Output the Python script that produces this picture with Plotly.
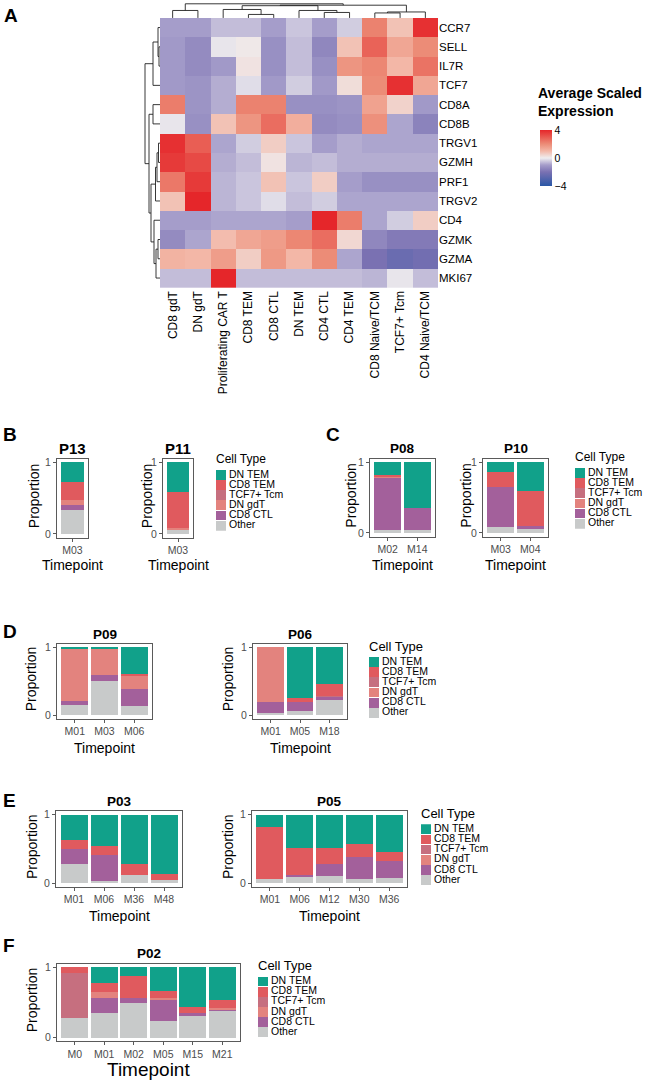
import plotly.graph_objects as go

W, H = 650, 1082
FONT = "Liberation Sans, Arial, sans-serif"

# ---------------- heatmap data (panel A) ----------------
genes = ["CCR7", "SELL", "IL7R", "TCF7", "CD8A", "CD8B", "TRGV1", "GZMH",
         "PRF1", "TRGV2", "CD4", "GZMK", "GZMA", "MKI67"]
clusters = ["CD8 gdT", "DN gdT", "Proliferating CAR T", "CD8 TEM", "CD8 CTL",
            "DN TEM", "CD4 CTL", "CD4 TEM", "CD8 Naive/TCM", "TCF7+ Tcm",
            "CD4 Naive/TCM"]
expr = [
    [-1.0, -1.0, -0.6, -0.6, -1.0, -0.5, -1.0, -0.4, 2.2, 0.8, 3.8],
    [-1.1, -1.4, -0.1, 0.1, -1.3, -0.6, -1.5, 0.8, 2.8, 1.4, 2.0],
    [-1.1, -1.4, -1.1, 0.2, -1.3, -0.6, -1.3, 1.8, 2.1, 1.0, 2.5],
    [-1.1, -1.2, -0.8, -0.2, -1.1, -0.4, -1.1, 0.3, 2.0, 3.8, 1.4],
    [2.3, -1.2, -0.8, 2.2, 2.2, -1.3, -1.3, -1.2, 1.5, 0.5, -1.1],
    [-0.1, -1.3, 0.8, 1.8, 2.6, 1.2, -1.4, -1.3, 1.9, -0.9, -1.6],
    [3.8, 2.9, -0.9, -0.4, 0.6, -0.5, -1.0, -0.8, -0.9, -0.9, -0.9],
    [3.6, 3.3, -0.8, -0.6, 0.2, -0.7, -0.6, -0.8, -0.8, -0.8, -0.8],
    [2.4, 3.6, -0.7, -0.5, 0.8, -0.5, 0.6, -1.0, -1.3, -1.3, -1.3],
    [0.8, 4.0, -0.7, -0.5, -0.2, -0.6, -0.4, -0.9, -0.9, -0.9, -0.9],
    [-1.0, -1.0, -0.9, -0.9, -0.9, -1.0, 4.0, 2.3, -0.9, -0.4, 0.6],
    [-1.4, -0.9, 0.9, 1.4, 1.6, 2.1, 2.6, 0.4, -1.5, -1.8, -1.8],
    [1.1, 1.0, 1.6, 0.6, 1.7, 1.0, 2.0, -0.9, -2.0, -2.4, -2.2],
    [-0.6, -0.6, 4.0, -0.6, -0.6, -0.6, -0.6, -0.6, -0.7, -0.1, -0.6],
]
# dendrogram merges: [left id, right id, height]; leaves are 0..n-1 in display order
row_merges = [
    [1, 2, 1.0], [0, 14, 2.0], [15, 3, 7.0], [4, 5, 7.0],
    [6, 7, 1.5], [18, 8, 3.0], [19, 9, 4.5],
    [11, 12, 2.0], [21, 13, 4.0], [10, 22, 6.0],
    [20, 23, 9.0], [17, 24, 11.0], [16, 25, 15.0],
]
col_merges = [
    [3, 4, 3.5], [2, 11, 8.5], [6, 7, 5.5], [5, 13, 7.5], [12, 14, 12.3],
    [8, 9, 5.0], [16, 10, 6.0], [0, 1, 7.5], [15, 17, 12.8], [18, 19, 14.2],
]

# ---------------- composition data (panels B-F) ----------------
cell_types = ["Other", "CD8 CTL", "DN gdT", "TCF7+ Tcm", "CD8 TEM", "DN TEM"]
ct_colors = ["#C8CACA", "#A3609B", "#E3837E", "#C66F7F", "#E05A5E", "#11A18A"]

p13_tp = ["M03"]
p13 = {"DN TEM": [0.27], "CD8 TEM": [0.26], "TCF7+ Tcm": [0.0],
       "DN gdT": [0.065], "CD8 CTL": [0.065], "Other": [0.34]}
p11_tp = ["M03"]
p11 = {"DN TEM": [0.42], "CD8 TEM": [0.50], "TCF7+ Tcm": [0.0],
       "DN gdT": [0.01], "CD8 CTL": [0.01], "Other": [0.06]}
p08_tp = ["M02", "M14"]
p08 = {"DN TEM": [0.18, 0.65], "CD8 TEM": [0.02, 0.0], "TCF7+ Tcm": [0.0, 0.0],
       "DN gdT": [0.01, 0.0], "CD8 CTL": [0.75, 0.31], "Other": [0.04, 0.04]}
p10_tp = ["M03", "M04"]
p10 = {"DN TEM": [0.14, 0.41], "CD8 TEM": [0.21, 0.49], "TCF7+ Tcm": [0.0, 0.0],
       "DN gdT": [0.0, 0.0], "CD8 CTL": [0.56, 0.04], "Other": [0.09, 0.06]}
p09_tp = ["M01", "M03", "M06"]
p09 = {"DN TEM": [0.01, 0.01, 0.39], "CD8 TEM": [0.01, 0.0, 0.02],
       "TCF7+ Tcm": [0.0, 0.0, 0.0], "DN gdT": [0.77, 0.395, 0.20],
       "CD8 CTL": [0.06, 0.085, 0.25], "Other": [0.15, 0.51, 0.14]}
p06_tp = ["M01", "M05", "M18"]
p06 = {"DN TEM": [0.0, 0.75, 0.54], "CD8 TEM": [0.0, 0.055, 0.18],
       "TCF7+ Tcm": [0.0, 0.0, 0.01], "DN gdT": [0.80, 0.0, 0.0],
       "CD8 CTL": [0.165, 0.13, 0.05], "Other": [0.035, 0.065, 0.22]}
p03_tp = ["M01", "M06", "M36", "M48"]
p03 = {"DN TEM": [0.375, 0.455, 0.71, 0.86], "CD8 TEM": [0.13, 0.13, 0.17, 0.09],
       "TCF7+ Tcm": [0, 0, 0, 0], "DN gdT": [0, 0, 0, 0],
       "CD8 CTL": [0.21, 0.375, 0.0, 0.0], "Other": [0.285, 0.04, 0.12, 0.05]}
p05_tp = ["M01", "M06", "M12", "M30", "M36"]
p05 = {"DN TEM": [0.18, 0.48, 0.48, 0.42, 0.54], "CD8 TEM": [0.76, 0.39, 0.23, 0.20, 0.13],
       "TCF7+ Tcm": [0, 0, 0, 0, 0], "DN gdT": [0, 0, 0, 0, 0],
       "CD8 CTL": [0.0, 0.043, 0.175, 0.31, 0.25], "Other": [0.06, 0.087, 0.115, 0.07, 0.08]}
p02_tp = ["M0", "M01", "M02", "M05", "M15", "M21"]
p02 = {"DN TEM": [0.0, 0.225, 0.12, 0.34, 0.57, 0.46],
       "CD8 TEM": [0.085, 0.13, 0.315, 0.10, 0.08, 0.12],
       "TCF7+ Tcm": [0.635, 0.0, 0.0, 0.0, 0.0, 0.0],
       "DN gdT": [0.0, 0.08, 0.0, 0.01, 0.0, 0.015],
       "CD8 CTL": [0.0, 0.215, 0.07, 0.315, 0.05, 0.03],
       "Other": [0.28, 0.35, 0.495, 0.235, 0.30, 0.375]}

fig = go.Figure()
annotations = []
n_axes = 0


def new_axes(x0, x1, y0, y1, xaxis=None, yaxis=None):
    """Add an x/y axis pair whose domain is given in pixels."""
    global n_axes
    n_axes += 1
    s = "" if n_axes == 1 else str(n_axes)
    base = dict(showgrid=False, zeroline=False)
    fig.update_layout({
        f"xaxis{s}": dict(domain=[x0 / W, x1 / W], anchor=f"y{s}", **base, **(xaxis or {})),
        f"yaxis{s}": dict(domain=[1 - y1 / H, 1 - y0 / H], anchor=f"x{s}", **base, **(yaxis or {})),
    })
    return f"x{s}", f"y{s}"


def text(x, y, s, size, bold=False, angle=0, color="black", xanchor="center", yanchor="middle"):
    annotations.append(dict(
        x=x / W, y=1 - y / H, xref="paper", yref="paper", text=f"<b>{s}</b>" if bold else s,
        showarrow=False, textangle=angle, xanchor=xanchor, yanchor=yanchor, align="left",
        borderpad=0, font=dict(family=FONT, size=size, color=color)))


def dendro_lines(merges, n):
    pos = list(range(n))
    hgt = [0.0] * n
    xs, ys = [], []
    for a, b, h in merges:
        xs += [pos[a], pos[a], pos[b], pos[b], None]
        ys += [hgt[a], h, h, hgt[b], None]
        pos.append((pos[a] + pos[b]) / 2)
        hgt.append(h)
    return xs, ys


# ---------------- panel A ----------------
hx0, hx1, hy0, hy1 = 160, 438, 15, 286
colorscale = [
    [0.0, "#2A57A6"], [0.25, "#7A71B2"], [0.375, "#A59DCA"], [0.5, "#EFEDEF"],
    [0.625, "#F3B7A7"], [0.75, "#EC8C77"], [1.0, "#E5262A"],
]
xa, ya = new_axes(
    hx0, hx1, hy0, hy1,
    xaxis=dict(type="category", tickangle=-90, ticks="", showline=False,
               tickfont=dict(family=FONT, size=12, color="black")),
    yaxis=dict(type="category", autorange="reversed", side="right", ticks="",
               showline=False, tickfont=dict(family=FONT, size=11.5, color="black")),
)
fig.add_trace(go.Heatmap(
    z=expr, x=clusters, y=genes, colorscale=colorscale, zmin=-4, zmax=4,
    xaxis=xa, yaxis=ya, xgap=0, ygap=0,
    colorbar=dict(x=540 / W, xanchor="left", y=1 - 128 / H, yanchor="top",
                  lenmode="pixels", len=56, thickness=12, outlinewidth=0,
                  xpad=0, ypad=0, ticks="", tickvals=[4, 0, -4],
                  ticktext=["4", "0", "\u22124"],
                  tickfont=dict(family=FONT, size=10.5, color="black")),
))
text(537, 99, "Average Scaled<br>Expression", 14, bold=True, xanchor="left")
text(3, 13, "A", 19, bold=True, xanchor="left")

# column dendrogram
cx, cy = dendro_lines(col_merges, len(clusters))
xa, ya = new_axes(hx0, hx1, 0, hy0,
                  xaxis=dict(range=[-0.5, len(clusters) - 0.5], visible=False),
                  yaxis=dict(range=[0, 15], visible=False))
fig.add_trace(go.Scatter(x=cx, y=cy, mode="lines", line=dict(color="#222", width=0.9),
                         xaxis=xa, yaxis=ya, hoverinfo="skip"))

# row dendrogram
rx, ry = dendro_lines(row_merges, len(genes))
xa, ya = new_axes(142, hx0, hy0, hy1,
                  xaxis=dict(range=[18, 0], visible=False),
                  yaxis=dict(range=[len(genes) - 0.5, -0.5], visible=False))
fig.add_trace(go.Scatter(x=ry, y=rx, mode="lines", line=dict(color="#222", width=0.9),
                         xaxis=xa, yaxis=ya, hoverinfo="skip"))


# ---------------- panels B-F ----------------
def bar_panel(x0, x1, y0, y1, title, tps, props, title_size=13.5, prop_x=None, tp_y=None,
              tp_size=14):
    n = len(tps)
    axis_style = dict(showline=True, mirror=True, color="#4D4D4D", linecolor="#5A5A5A",
                      linewidth=1, ticks="outside", ticklen=3, tickcolor="#5A5A5A",
                      tickwidth=0.8, tickfont=dict(family=FONT, size=10.5, color="#4D4D4D"))
    xa, ya = new_axes(
        x0, x1, y0, y1,
        xaxis=dict(type="category", range=[-0.6, n - 0.4], **axis_style),
        yaxis=dict(range=[-0.05, 1.05], tickvals=[0, 1], **axis_style),
    )
    for ct, col in zip(cell_types, ct_colors):
        fig.add_trace(go.Bar(x=tps, y=props[ct], name=ct, marker=dict(color=col, line_width=0),
                             width=0.9, xaxis=xa, yaxis=ya))
    xc = (x0 + x1) / 2
    text(xc, y0 - 10, title, title_size, bold=True, xanchor="center")
    text(prop_x, (y0 + y1) / 2 - 2, "Proportion", 14, angle=-90)
    text(xc, tp_y, "Timepoint", tp_size)


def legend_panel(x0, y0, title_size=11, row_h=10.2):
    names = cell_types[::-1]
    cols = ct_colors[::-1]
    w = min(80, W - x0)
    xa, ya = new_axes(x0, x0 + w, y0, y0 + row_h * len(names),
                      xaxis=dict(range=[0, w], visible=False),
                      yaxis=dict(type="category", range=[len(names) - 0.5, -0.5], visible=False))
    fig.add_trace(go.Bar(y=names, x=[10] * len(names), base=0, orientation="h",
                         marker=dict(color=cols, line_width=0), width=0.96,
                         xaxis=xa, yaxis=ya, hoverinfo="skip"))
    fig.add_trace(go.Scatter(y=names, x=[13] * len(names), text=names, mode="text",
                             textposition="middle right",
                             textfont=dict(family=FONT, size=10.5, color="black"),
                             xaxis=xa, yaxis=ya, hoverinfo="skip", cliponaxis=False))
    text(x0 - 1, y0 - 11, "Cell Type", title_size, xanchor="left")


# B
text(2, 434, "B", 19, bold=True, xanchor="left")
bar_panel(57, 88, 458, 537, "P13", p13_tp, p13, title_size=15, prop_x=34, tp_y=565)
bar_panel(163, 193, 458, 537, "P11", p11_tp, p11, title_size=15, prop_x=147, tp_y=565)
legend_panel(216, 469, title_size=12)

# C
text(325, 434, "C", 19, bold=True, xanchor="left")
bar_panel(370, 435, 458, 536, "P08", p08_tp, p08, prop_x=351, tp_y=565)
bar_panel(483, 548, 458, 536, "P10", p10_tp, p10, prop_x=466, tp_y=565)
legend_panel(575, 467, title_size=12)

# D
text(2, 631, "D", 19, bold=True, xanchor="left")
bar_panel(57, 152, 644, 719, "P09", p09_tp, p09, prop_x=31, tp_y=748)
bar_panel(253, 347, 644, 719, "P06", p06_tp, p06, prop_x=228, tp_y=748)
legend_panel(369, 657, title_size=13)

# E
text(2, 801, "E", 19, bold=True, xanchor="left")
bar_panel(56, 182, 812, 888, "P03", p03_tp, p03, prop_x=32, tp_y=917)
bar_panel(252, 407, 812, 888, "P05", p05_tp, p05, prop_x=228, tp_y=917)
legend_panel(421, 825, title_size=13)

# F
text(2, 947, "F", 19, bold=True, xanchor="left")
bar_panel(57, 240, 965, 1043, "P02", p02_tp, p02, prop_x=32, tp_y=1071, tp_size=19)
legend_panel(258, 978, title_size=13)

fig.update_layout(
    width=W, height=H, margin=dict(l=0, r=0, t=0, b=0),
    paper_bgcolor="white", plot_bgcolor="white",
    barmode="stack", showlegend=False, annotations=annotations,
    font=dict(family=FONT),
)

# drop the browser's default 8px page margin so the figure sits at the page origin
fig.write_html("out.html", config={"displayModeBar": False},
               post_script="document.body.style.margin = '0';")
